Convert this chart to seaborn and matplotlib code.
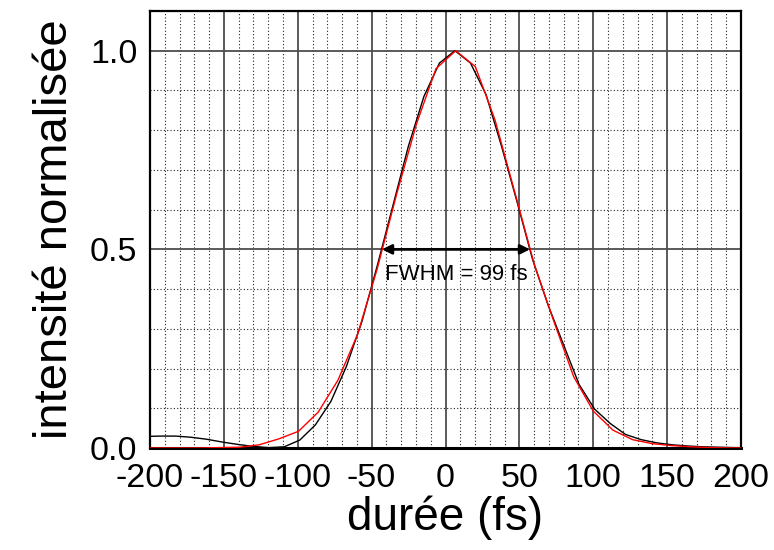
import numpy as np
import pandas as pd
import matplotlib
matplotlib.use("Agg")
import matplotlib.pyplot as plt
import seaborn as sns
from matplotlib.ticker import MultipleLocator

# ---- data ----
meas_t = [-203.6, -193.1, -182.6, -172.1, -161.6, -151.1, -140.6, -130.1, -119.6, -109.1,
          -98.6, -88.1, -77.6, -67.1, -56.6, -46.1, -35.6, -25.1, -14.6, -4.1,
          6.4, 16.9, 27.4, 37.9, 48.4, 58.9, 69.4, 79.9, 90.4, 100.9,
          111.4, 121.9, 132.4, 142.9, 153.4, 163.9, 174.4, 184.9, 195.4, 205.9]
meas_i = [0.029, 0.030, 0.030, 0.027, 0.022, 0.015, 0.009, 0.004, 0.001, 0.003,
          0.020, 0.058, 0.117, 0.205, 0.318, 0.460, 0.610, 0.760, 0.885, 0.969,
          1.000, 0.969, 0.890, 0.760, 0.620, 0.475, 0.360, 0.260, 0.160, 0.098,
          0.062, 0.034, 0.021, 0.013, 0.008, 0.005, 0.003, 0.002, 0.001, 0.001]

fit_t = [-205.9, -192.6, -179.3, -166.0, -152.7, -139.4, -126.1, -112.8, -99.5, -86.2,
         -72.9, -59.6, -46.3, -33.0, -19.7, -6.4, 6.9, 20.2, 33.5, 46.8,
         60.1, 73.4, 86.7, 100.0, 113.3, 126.6, 139.9, 153.2, 166.5, 179.8,
         193.1, 206.4]
fit_i = [0.000, 0.000, 0.000, 0.000, 0.001, 0.002, 0.008, 0.023, 0.042, 0.090,
         0.170, 0.285, 0.450, 0.640, 0.815, 0.955, 1.000, 0.960, 0.826, 0.645,
         0.462, 0.318, 0.180, 0.093, 0.045, 0.021, 0.011, 0.006, 0.003, 0.001,
         0.000, 0.000]

fwhm_left, fwhm_right, fwhm_level = -43.0, 57.2, 0.5
fwhm_text = "FWHM = 99 fs"

x_ticks = [-200, -150, -100, -50, 0, 50, 100, 150, 200]
y_ticks = [0.0, 0.5, 1.0]

sns.set_style("white")
plt.rcParams['font.family'] = ['Liberation Sans', 'DejaVu Sans']
plt.rcParams['axes.unicode_minus'] = False
plt.rcParams['text.color'] = 'black'
plt.rcParams['axes.labelcolor'] = 'black'
plt.rcParams['xtick.color'] = 'black'
plt.rcParams['ytick.color'] = 'black'

fig = plt.figure(figsize=(7.74, 5.5), dpi=100)
ax = fig.add_axes([150/774, 102/550, 591/774, 437/550])

df_meas = pd.DataFrame({"t": meas_t, "I": meas_i})
df_fit = pd.DataFrame({"t": fit_t, "I": fit_i})

sns.lineplot(data=df_meas, x="t", y="I", ax=ax, color="black", lw=1.0, zorder=5)
sns.lineplot(data=df_fit, x="t", y="I", ax=ax, color="#ff0000", lw=1.0, zorder=6)

ax.set_xlim(-200, 200)
ax.set_ylim(0, 1.1)
ax.set_xticks(x_ticks)
ax.set_xticklabels([str(v) for v in x_ticks])
ax.set_yticks(y_ticks)
ax.set_yticklabels([f"{v:.1f}" for v in y_ticks])
ax.xaxis.set_minor_locator(MultipleLocator(10))
ax.yaxis.set_minor_locator(MultipleLocator(0.1))

ax.grid(which="major", color="#4d4d4d", lw=1.3, ls="-", zorder=1)
ax.grid(which="minor", color="#222222", lw=0.8, ls=(0, (1, 2)), zorder=1)
ax.set_axisbelow(True)

for s in ax.spines.values():
    s.set_visible(True)
    s.set_color("black")
    s.set_linewidth(1.6)
ax.spines["bottom"].set_linewidth(2.2)

ax.tick_params(axis="x", which="major", direction="out", length=7, width=1.6,
               labelsize=24.5, pad=4, colors="black")
ax.tick_params(axis="x", which="minor", direction="out", length=4.5, width=1.2)
ax.tick_params(axis="y", which="major", direction="out", length=5, width=1.6,
               labelsize=24.5, pad=4, colors="black")
ax.tick_params(axis="y", which="minor", direction="out", length=2.5, width=1.2)

ax.set_xlabel("durée (fs)", fontsize=33, labelpad=1, color="black")
ax.set_ylabel("intensité normalisée", fontsize=34, labelpad=9, color="black")

ax.annotate("", xy=(fwhm_left, fwhm_level), xytext=(fwhm_right, fwhm_level),
            arrowprops=dict(arrowstyle="<|-|>", color="black", lw=2.0,
                            mutation_scale=14, shrinkA=0, shrinkB=0), zorder=7)
ax.text(7, 0.423, fwhm_text, ha="center", va="baseline", fontsize=16, color="black", zorder=8)

fig.savefig("out.png", dpi=100)
